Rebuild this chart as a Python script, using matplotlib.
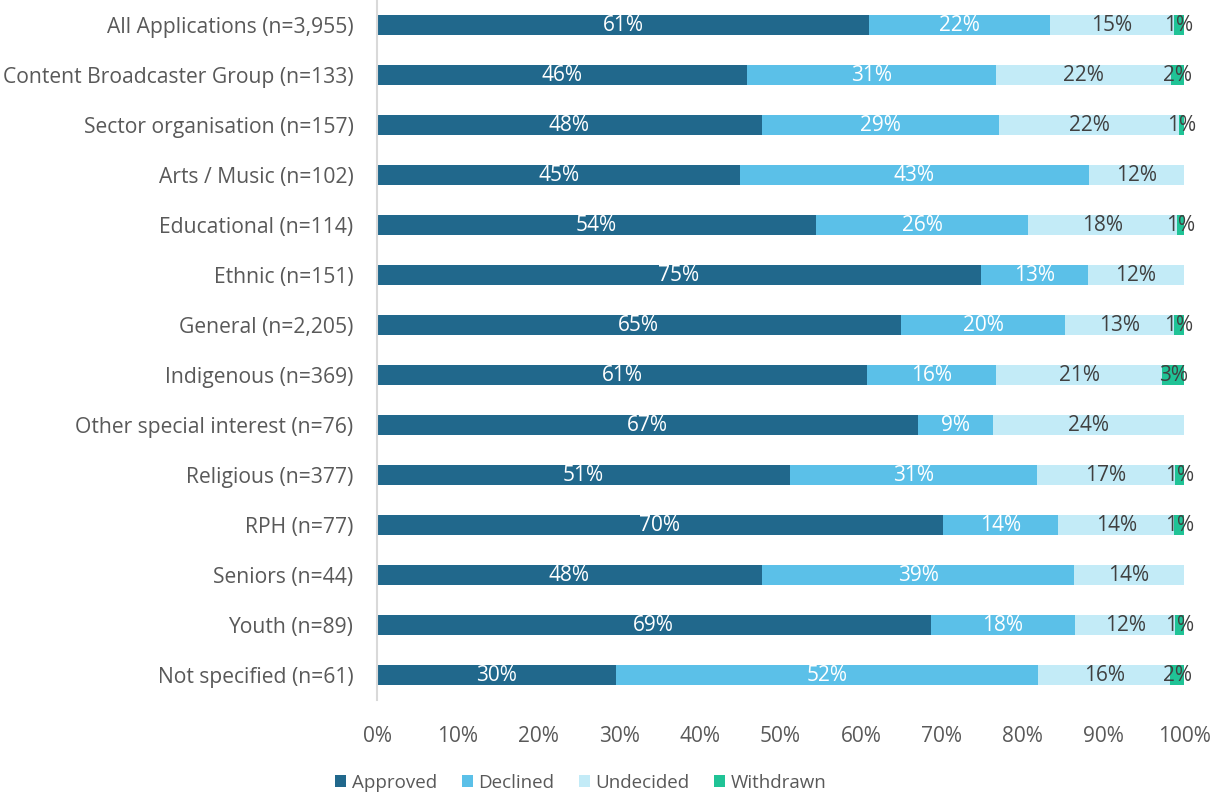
import numpy as np
import matplotlib.pyplot as plt

plt.rcParams['font.family'] = ['Open Sans', 'DejaVu Sans']

categories = ['All Applications (n=3,955)', 'Content Broadcaster Group (n=133)',
              'Sector organisation (n=157)', 'Arts / Music (n=102)',
              'Educational (n=114)', 'Ethnic (n=151)', 'General (n=2,205)',
              'Indigenous (n=369)', 'Other special interest (n=76)',
              'Religious (n=377)', 'RPH (n=77)', 'Seniors (n=44)',
              'Youth (n=89)', 'Not specified (n=61)']

approved = [61.0, 45.8, 47.7, 45.0, 54.4, 74.8, 64.9, 60.7, 67.1, 51.2, 70.1, 47.7, 68.6, 29.6]
declined = [22.4, 30.9, 29.4, 43.2, 26.3, 13.3, 20.4, 16.0, 9.2, 30.6, 14.3, 38.7, 17.9, 52.3]
undecided = [15.3, 21.7, 22.3, 11.8, 18.4, 11.9, 13.4, 20.6, 23.7, 17.1, 14.4, 13.6, 12.4, 16.4]
withdrawn = [1.3, 1.6, 0.6, 0.0, 0.9, 0.0, 1.3, 2.7, 0.0, 1.1, 1.2, 0.0, 1.1, 1.7]

series = [('Approved', approved, '#21688C', 'white'),
          ('Declined', declined, '#5BC0E8', 'white'),
          ('Undecided', undecided, '#C3EBF7', '#404040'),
          ('Withdrawn', withdrawn, '#20C396', '#404040')]

fig = plt.figure(figsize=(12.13, 7.98), dpi=100)
ax = fig.add_axes([377 / 1213, 1 - 700 / 798, (1184 - 377) / 1213, 700 / 798])

y = np.arange(len(categories))
left = np.zeros(len(categories))
for name, vals, col, txtcol in series:
    vals = np.array(vals)
    ax.barh(y, vals, left=left, height=0.4, color=col, label=name)
    for i, v in enumerate(vals):
        if v > 0:
            ax.text(left[i] + v / 2, y[i], f'{round(v):.0f}%', ha='center', va='center',
                    color=txtcol, fontsize=15)
    left += vals

ax.set_xlim(0, 100)
ax.set_ylim(len(categories) - 0.5, -0.5)
ax.set_yticks(y)
ax.set_yticklabels(categories, fontsize=15.2, color='#595959')
ax.set_xticks(np.arange(0, 101, 10))
ax.set_xticklabels([f'{t}%' for t in range(0, 101, 10)], fontsize=15, color='#595959')
ax.tick_params(axis='both', length=0)
ax.tick_params(axis='y', pad=17)
ax.tick_params(axis='x', pad=19)
for s in ['top', 'right', 'bottom']:
    ax.spines[s].set_visible(False)
ax.spines['left'].set_color('#D9D9D9')
ax.spines['left'].set_linewidth(1.5)

fig.legend(loc='center', bbox_to_anchor=(581 / 1213, 1 - 783 / 798), ncol=4, frameon=False,
           fontsize=13.5, handlelength=0.6, handleheight=0.6, handletextpad=0.3,
           columnspacing=1.3, labelcolor='#595959')

fig.savefig('out.png', dpi=100)
